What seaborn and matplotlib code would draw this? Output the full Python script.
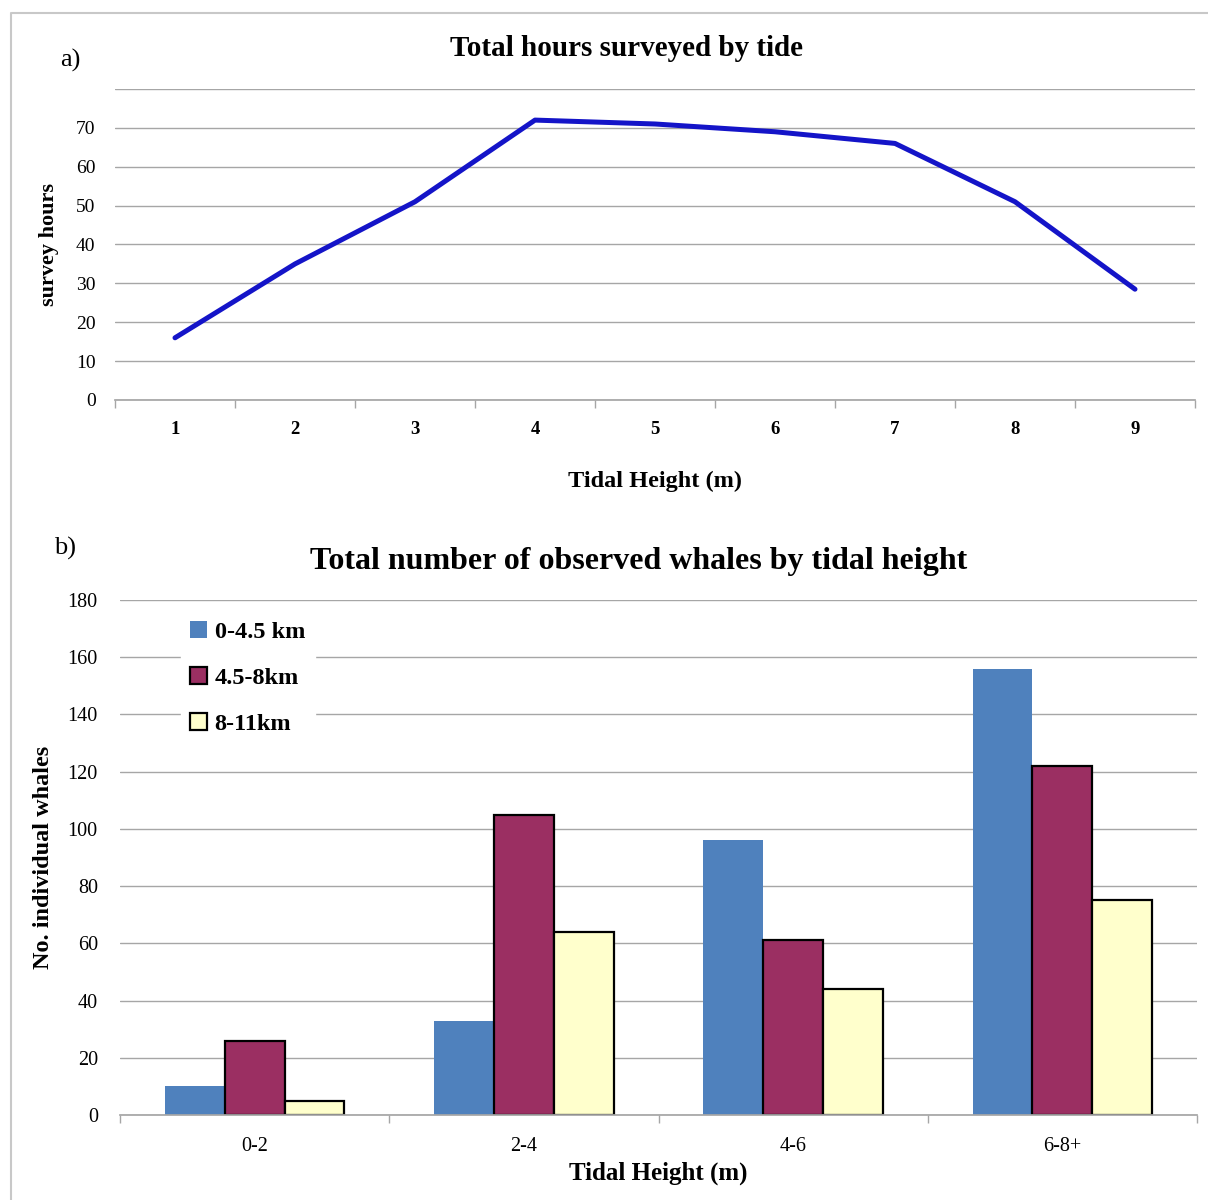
import matplotlib
matplotlib.use("Agg")
import matplotlib.pyplot as plt
import seaborn as sns
import pandas as pd
from matplotlib.lines import Line2D
from matplotlib.patches import Patch

# ---- data ----
tide_levels = [1, 2, 3, 4, 5, 6, 7, 8, 9]
survey_hours = [16, 35, 51, 72, 71, 69, 66, 51, 28.5]

height_classes = ["0-2", "2-4", "4-6", "6-8+"]
dist_labels = ["0-4.5 km", "4.5-8km", "8-11km"]
whales_0_45 = [10, 33, 96, 156]
whales_45_8 = [26, 105, 61, 122]
whales_8_11 = [5, 64, 44, 75]

sns.set_theme(style="white")
plt.rcParams['font.family'] = ['Liberation Serif', 'DejaVu Serif']
plt.rcParams['text.color'] = 'black'
plt.rcParams['axes.labelcolor'] = 'black'
plt.rcParams['xtick.color'] = 'black'
plt.rcParams['ytick.color'] = 'black'

fig = plt.figure(figsize=(12.08, 12.0), dpi=100)
fig.add_artist(Line2D([12/1208, 1.0], [1-13/1200, 1-13/1200], color="#c8c8c8", lw=1.5))
fig.add_artist(Line2D([11/1208, 11/1208], [0, 1-13/1200], color="#c8c8c8", lw=1.5))

grid_c = "#a6a6a6"

# ---- top panel ----
ax1 = fig.add_axes([115/1208, 1-400/1200, (1195-115)/1208, (400-89)/1200])
df1 = pd.DataFrame({"tide": tide_levels, "hours": survey_hours})
sns.lineplot(data=df1, x="tide", y="hours", ax=ax1, color="#1414c8", lw=3.6)
ax1.set_xlim(0.5, 9.5)
ax1.set_ylim(0, 80)
ax1.set_yticks(range(0, 81, 10))
ax1.set_yticklabels([str(v) for v in range(0, 71, 10)] + [""], fontsize=14)
ax1.yaxis.grid(True, color=grid_c, lw=1)
ax1.set_axisbelow(True)
ax1.set_xticks(tide_levels)
ax1.set_xticklabels([str(v) for v in tide_levels], fontsize=13.5, fontweight="bold")
ax1.set_xticks([x + 0.5 for x in range(0, 10)], minor=True)
ax1.tick_params(axis="x", which="major", length=0, pad=15)
ax1.tick_params(axis="x", which="minor", bottom=True, length=6, width=1,
                color=grid_c, direction="out")
ax1.tick_params(axis="y", length=0, pad=14)
for s in ["top", "right", "left"]:
    ax1.spines[s].set_visible(False)
ax1.spines["bottom"].set_color(grid_c)
ax1.set_xlabel("Tidal Height (m)", fontsize=17.5, fontweight="bold", labelpad=24)
ax1.set_ylabel("survey hours", fontsize=16, fontweight="bold", labelpad=12)
fig.text(626/1208, 1-48/1200, "Total hours surveyed by tide", fontsize=21,
         fontweight="bold", ha="center", va="center")
fig.text(70/1208, 1-60/1200, "a)", fontsize=19, ha="center", va="center")

# ---- bottom panel ----
ax2 = fig.add_axes([120/1208, 1-1115/1200, (1197-120)/1208, (1115-600)/1200])
df2 = pd.DataFrame({
    "height": height_classes * 3,
    "dist": [dist_labels[0]] * 4 + [dist_labels[1]] * 4 + [dist_labels[2]] * 4,
    "count": whales_0_45 + whales_45_8 + whales_8_11,
})
colors = ["#4f81bd", "#9b2f62", "#ffffcc"]
sns.barplot(data=df2, x="height", y="count", hue="dist", hue_order=dist_labels,
            order=height_classes, palette=colors, width=0.667, ax=ax2,
            saturation=1, legend=False, errorbar=None)
for i, cont in enumerate(ax2.containers):
    for p in cont:
        if i == 0:
            p.set_edgecolor("none")
            p.set_linewidth(0)
        else:
            p.set_edgecolor("black")
            p.set_linewidth(1.6)
ax2.set_xlim(-0.5, 3.5)
ax2.set_ylim(0, 180)
ax2.set_yticks(range(0, 181, 20))
ax2.set_yticklabels([str(v) for v in range(0, 181, 20)], fontsize=14.5)
ax2.yaxis.grid(True, color=grid_c, lw=1)
ax2.set_axisbelow(True)
ax2.set_xticks(range(4))
ax2.set_xticklabels(height_classes, fontsize=14.5)
ax2.set_xticks([x - 0.5 for x in range(5)], minor=True)
ax2.tick_params(axis="x", which="major", length=0, pad=16)
ax2.tick_params(axis="x", which="minor", bottom=True, length=6, width=1,
                color=grid_c, direction="out")
ax2.tick_params(axis="y", length=0, pad=16)
for s in ["top", "right", "left"]:
    ax2.spines[s].set_visible(False)
ax2.spines["bottom"].set_color(grid_c)
ax2.set_xlabel("Tidal Height (m)", fontsize=18, fontweight="bold", labelpad=4)
ax2.set_ylabel("No. individual whales", fontsize=17.5, fontweight="bold", labelpad=10)
fig.text(639/1208, 1-561/1200, "Total number of observed whales by tidal height",
         fontsize=23, fontweight="bold", ha="center", va="center")
fig.text(65/1208, 1-548/1200, "b)", fontsize=19, ha="center", va="center")

handles = [Patch(facecolor=colors[0], edgecolor="none"),
           Patch(facecolor=colors[1], edgecolor="black", lw=1.6),
           Patch(facecolor=colors[2], edgecolor="black", lw=1.6)]
leg = ax2.legend(handles, dist_labels, loc="upper left",
                 bbox_to_anchor=(0.045, 1.002), frameon=True, fancybox=False,
                 framealpha=1, edgecolor="white", labelspacing=1.0,
                 handlelength=0.7, handleheight=0.7, handletextpad=0.3,
                 prop={"family": "Liberation Serif", "weight": "bold", "size": 17.5})

fig.savefig("out.png", dpi=100, facecolor="white")
